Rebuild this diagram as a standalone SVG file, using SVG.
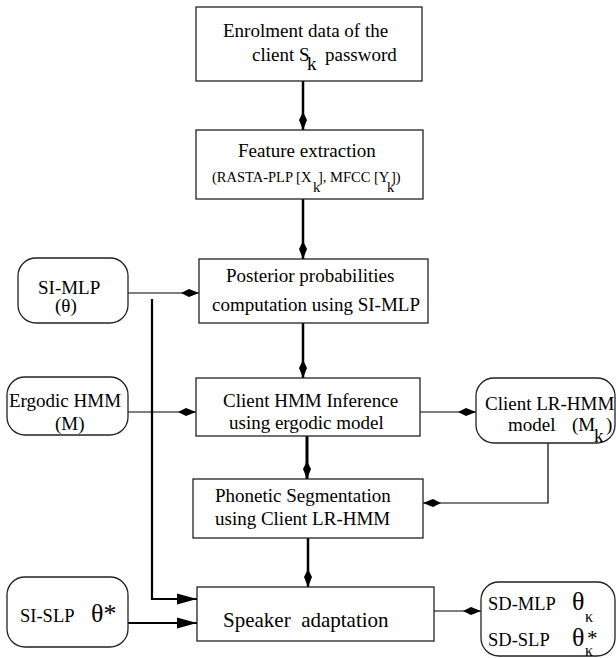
<svg xmlns="http://www.w3.org/2000/svg" width="616" height="658" viewBox="0 0 616 658">
<style>
text{font-family:"Liberation Serif","Times New Roman",serif;fill:#000}
.t{font-size:19px}
.s{font-size:14.5px}
.sp{font-size:21px;white-space:pre}
.g{font-size:26px}
.box{fill:#fff;stroke:#222;stroke-width:1.3}
.thin{fill:none;stroke:#000;stroke-width:1.2}
.thick{fill:none;stroke:#000;stroke-width:2.5}
.mid{fill:none;stroke:#000;stroke-width:2.2}
</style>
<defs>
<marker id="dia" markerUnits="userSpaceOnUse" markerWidth="22" markerHeight="12" viewBox="-20 -6 22 12" refX="0" refY="0" orient="auto">
<path d="M0,0 L-10,-4 L-18,0 L-10,4 Z" fill="#000"/>
</marker>
<marker id="tri" markerUnits="userSpaceOnUse" markerWidth="24" markerHeight="14" viewBox="-22 -7 24 14" refX="0" refY="0" orient="auto">
<path d="M0,0 L-20,-5.5 L-20,5.5 Z" fill="#000"/>
</marker>
</defs>
<g id="connectors">
<path class="thick" d="M303,81 V130" marker-end="url(#dia)"/>
<path class="thick" d="M303,199 V259" marker-end="url(#dia)"/>
<path class="thin" d="M128,293 H199" marker-end="url(#dia)"/>
<path class="thick" d="M303,323 V378" marker-end="url(#dia)"/>
<path class="thin" d="M128,412 H196" marker-end="url(#dia)"/>
<path class="thin" d="M420,412 H476" marker-end="url(#dia)"/>
<path class="thin" d="M548,443 V503 H423" marker-end="url(#dia)"/>
<path class="thick" style="stroke-width:3" d="M307,436 V479" marker-end="url(#dia)"/>
<path class="thick" d="M308,538 V587" marker-end="url(#dia)"/>
<path class="mid" d="M152,299 V599 H197" marker-end="url(#tri)"/>
<path class="mid" d="M128,623 H197" marker-end="url(#tri)"/>
<path class="thin" d="M434,611 H481" marker-end="url(#dia)"/>
</g>
<g id="enrolment">
<rect class="box" x="196" y="7" width="226" height="74"/>
<text class="t" x="223" y="37">Enrolment data of the</text>
<text class="t" x="252" y="61">client S</text>
<text class="t" x="307" y="70">k</text>
<text class="t" x="325" y="61">password</text>
</g>
<g id="feature">
<rect class="box" x="196" y="130" width="227" height="69"/>
<text class="t" x="238" y="157">Feature extraction</text>
<text class="s" x="212" y="182">(RASTA-PLP [X</text>
<text class="s" x="313" y="192">k</text>
<text class="s" x="318" y="182">], MFCC [Y</text>
<text class="s" x="387" y="192">k</text>
<text class="s" x="391" y="182">])</text>
</g>
<g id="posterior">
<rect class="box" x="199" y="259" width="229" height="64"/>
<text class="t" x="226" y="282">Posterior probabilities</text>
<text class="t" x="212" y="311">computation using SI-MLP</text>
</g>
<g id="si-mlp">
<rect class="box" x="18" y="258" width="110" height="65" rx="18"/>
<text class="t" x="38" y="294">SI-MLP</text>
<text class="t" x="55" y="312">(θ)</text>
</g>
<g id="client-hmm">
<rect class="box" x="196" y="378" width="224" height="58"/>
<text class="t" x="223" y="407">Client HMM Inference</text>
<text class="t" x="229" y="429">using ergodic model</text>
</g>
<g id="ergodic">
<rect class="box" x="7" y="377" width="121" height="58" rx="18"/>
<text class="t" x="9" y="407">Ergodic HMM</text>
<text class="t" x="55" y="430">(M)</text>
</g>
<g id="client-lr-hmm">
<rect class="box" x="476" y="378" width="139" height="65" rx="18"/>
<text class="t" x="485" y="410">Client LR-HMM</text>
<text class="t" x="508" y="431">model</text>
<text class="t" x="572" y="431">(M</text>
<text class="t" x="594" y="442">k</text>
<text class="t" x="606" y="431">)</text>
</g>
<g id="phonetic">
<rect class="box" x="193" y="479" width="230" height="59"/>
<text class="t" x="215" y="502">Phonetic Segmentation</text>
<text class="t" x="215" y="525">using Client LR-HMM</text>
</g>
<g id="speaker">
<rect class="box" x="197" y="587" width="237" height="54"/>
<text class="sp" x="223" y="627">Speaker  adaptation</text>
</g>
<g id="si-slp">
<rect class="box" x="7" y="577" width="121" height="70" rx="18"/>
<text class="t" style="font-size:18.5px" x="20" y="622">SI-SLP</text>
<text class="g" x="91" y="622">θ*</text>
</g>
<g id="sd">
<rect class="box" x="481" y="582" width="134" height="74" rx="18"/>
<text class="t" style="font-size:18.5px" x="488" y="610">SD-MLP</text>
<text class="g" x="572" y="610">θ</text>
<text class="s" style="font-size:16px" x="585" y="622">κ</text>
<text class="t" style="font-size:18.5px" x="488" y="646">SD-SLP</text>
<text class="g" x="572" y="646">θ</text>
<text class="g" style="font-size:21px" x="587" y="645">*</text>
<text class="s" style="font-size:16px" x="585" y="656">κ</text>
</g>
</svg>
